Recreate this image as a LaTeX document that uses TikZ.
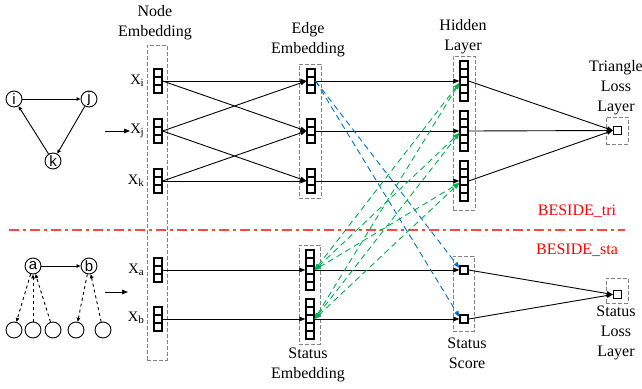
\documentclass[tikz,border=0pt]{standalone}
\usepackage{fontspec}
\setmainfont{Liberation Serif}
\newfontfamily\circfont{Liberation Sans}
\usetikzlibrary{arrows.meta}
\definecolor{myblue}{RGB}{0,112,192}
\definecolor{mygreen}{RGB}{0,176,80}
\definecolor{myred}{RGB}{255,70,70}
\definecolor{boxgray}{RGB}{130,130,130}
\newcommand{\xsub}[1]{X\raisebox{-1.5pt}{\fontsize{11}{11}\selectfont #1}}
\begin{document}
\begin{tikzpicture}[x=1pt,y=-1pt,
  font=\fontsize{16}{20}\selectfont,
  lab/.style={align=center, inner sep=0},
  xlab/.style={anchor=east, inner sep=0, font=\fontsize{14.5}{15}\selectfont},
  dbox/.style={draw=boxgray, dash pattern=on 4pt off 2pt, line width=0.8pt, inner sep=0},
  vthree/.style={draw, line width=1.2pt, inner sep=0, minimum width=8pt, minimum height=24pt,
    path picture={
      \draw[line width=1.2pt] ([yshift=4pt]path picture bounding box.west) -- ([yshift=4pt]path picture bounding box.east);
      \draw[line width=1.2pt] ([yshift=-4pt]path picture bounding box.west) -- ([yshift=-4pt]path picture bounding box.east);}},
  vfive/.style={draw, line width=1.2pt, inner sep=0, minimum width=8pt, minimum height=40pt,
    path picture={
      \foreach \dy in {-12,-4,4,12}{
      \draw[line width=1.2pt] ([yshift=\dy pt]path picture bounding box.west) -- ([yshift=\dy pt]path picture bounding box.east);}}},
  sq/.style={draw, line width=1.2pt, inner sep=0, minimum size=8pt},
  arr/.style={-{Triangle[length=6pt,width=4.5pt]}, line width=0.9pt},
  sarr/.style={-{Triangle[length=4pt,width=3.5pt]}, line width=0.9pt},
  circ/.style={circle, draw, line width=0.9pt, minimum size=16pt, inner sep=0, font=\circfont\fontsize{15}{15}\selectfont},
  bluel/.style={draw=myblue, dash pattern=on 6pt off 4pt, line width=0.9pt, -{Triangle[length=6pt,width=4.5pt]}},
  greenl/.style={draw=mygreen, dash pattern=on 6pt off 4pt, line width=0.9pt, {Triangle[length=6pt,width=4.5pt]}-{Triangle[length=6pt,width=4.5pt]}},
  redt/.style={text=red, inner sep=0}
]
\useasboundingbox (0,0) rectangle (642,388);

% dashed boxes
\node[dbox, minimum width=20pt, minimum height=315pt] (nbox) at (157,202.5) {};
\node[dbox, minimum width=22pt, minimum height=134pt] (ebox) at (310,131) {};
\node[dbox, minimum width=21pt, minimum height=99pt] (sbox) at (309.5,294.5) {};
\node[dbox, minimum width=22pt, minimum height=154pt] (hbox) at (464,133) {};
\node[dbox, minimum width=21pt, minimum height=75pt] (scbox) at (463.5,293.5) {};
\node[dbox, minimum width=22pt, minimum height=27pt] (tbox) at (617,130.5) {};
\node[dbox, minimum width=22pt, minimum height=25pt] (slbox) at (617,290.5) {};

% titles
\node[lab] (tnode) at (155,23) {Node\\Embedding};
\node[lab] (tedge) at (308,40) {Edge\\Embedding};
\node[lab] (thid) at (463,37) {Hidden\\Layer};
\node[lab] (ttri) at (616,88) {Triangle\\Loss\\Layer};
\node[lab] (tse) at (308,365) {Status\\Embedding};
\node[lab] (tsc) at (467,353) {Status\\Score};
\node[lab] (tsl) at (616,333) {Status\\Loss\\Layer};
\node[redt] (btri) at (577,211) {BESIDE\_tri};
\node[redt] (bsta) at (577,250) {BESIDE\_sta};

% red separator
\coordinate (rl) at (9,230);
\coordinate (rr) at (625,230);
\draw[myred, line width=1.6pt, dash pattern=on 10pt off 4pt on 3pt off 4pt] (rl) -- (rr);

% node embedding vectors
\node[vthree] (xi) at (158,81) {};
\node[vthree] (xj) at (158,131) {};
\node[vthree] (xk) at (158,181) {};
\node[vthree] (xa) at (158,270) {};
\node[vthree] (xb) at (158,319) {};
\node[xlab] (lxi) at (144,81) {\xsub{i}};
\node[xlab] (lxj) at (144,131) {\xsub{j}};
\node[xlab] (lxk) at (144,181) {\xsub{k}};
\node[xlab] (lxa) at (144,270) {\xsub{a}};
\node[xlab] (lxb) at (144,318) {\xsub{b}};

% edge embedding vectors
\node[vthree] (e1) at (311,81) {};
\node[vthree] (e2) at (311,131) {};
\node[vthree] (e3) at (311,181) {};
% status embedding vectors
\node[vfive] (s1) at (310,270) {};
\node[vfive] (s2) at (310,319) {};
% hidden vectors
\node[vfive] (h1) at (464,81) {};
\node[vfive] (h2) at (464,131) {};
\node[vfive] (h3) at (464,181) {};
% status score
\node[sq] (sc1) at (464,270) {};
\node[sq] (sc2) at (464,319) {};
% losses
\node[sq] (tl) at (617.5,130.5) {};
\node[sq] (sl) at (617.5,294.5) {};

% node -> edge
\draw[arr] (xi.east) -- (e1.west);
\draw[arr] (xi.east) -- (e2.west);
\draw[arr] (xj.east) -- (e1.west);
\draw[arr] (xj.east) -- (e3.west);
\draw[arr] (xk.east) -- (e2.west);
\draw[arr] (xk.east) -- (e3.west);
% edge -> hidden
\draw[arr] (e1.east) -- (h1.west);
\draw[arr] (e2.east) -- (h2.west);
\draw[arr] (e3.east) -- (h3.west);
% hidden -> triangle loss
\draw[arr] (h1.east) -- (tl.west);
\draw[arr] (h2.east) -- (tl.west);
\draw[arr] (h3.east) -- (tl.west);
% status
\draw[arr] (xa.east) -- (s1.west);
\draw[arr] (xb.east) -- (s2.west);
\draw[arr] (s1.east) -- (sc1.west);
\draw[arr] (s2.east) -- (sc2.west);
\draw[arr] (sc1.east) -- (sl.west);
\draw[arr] (sc2.east) -- (sl.west);

% blue dashed
\draw[bluel] (e1.east) -- ([yshift=2pt]sc1.west);
\draw[bluel] (e1.east) -- ([yshift=2pt]sc2.west);

% green dashed
\foreach \s in {s1,s2}{
  \foreach \h in {h1,h2,h3}{
    \draw[greenl] (\s.east) -- ([yshift=-2pt]\h.west);
  }
}

% left triangle graph
\node[circ] (ci) at (14,99) {i};
\node[circ] (cj) at (89,99) {j};
\node[circ] (ck) at (53,161) {k};
\draw[sarr] (ci) -- (cj);
\draw[sarr] (cj) -- (ck);
\draw[sarr] (ck) -- (ci);
\coordinate (a1s) at (105,131);
\draw[arr] (a1s) -- (lxj.west);

% left status graph
\node[circ] (ca) at (33,266) {a};
\node[circ] (cb) at (89,266) {b};
\node[circ] (c1) at (14,330) {};
\node[circ] (c2) at (33,330) {};
\node[circ] (c3) at (53,330) {};
\node[circ] (c4) at (76,330) {};
\node[circ] (c5) at (103,330) {};
\draw[sarr] (ca) -- (cb);
\draw[sarr, dashed] (ca) -- (c1);
\draw[sarr, dashed] (c2) -- (ca);
\draw[sarr, dashed] (c3) -- (ca);
\draw[sarr, dashed] (cb) -- (c4);
\draw[sarr, dashed] (c5) -- (cb);
\coordinate (a2s) at (105,292);
\coordinate (a2e) at (128,292);
\draw[arr] (a2s) -- (a2e);
\end{tikzpicture}
\end{document}
